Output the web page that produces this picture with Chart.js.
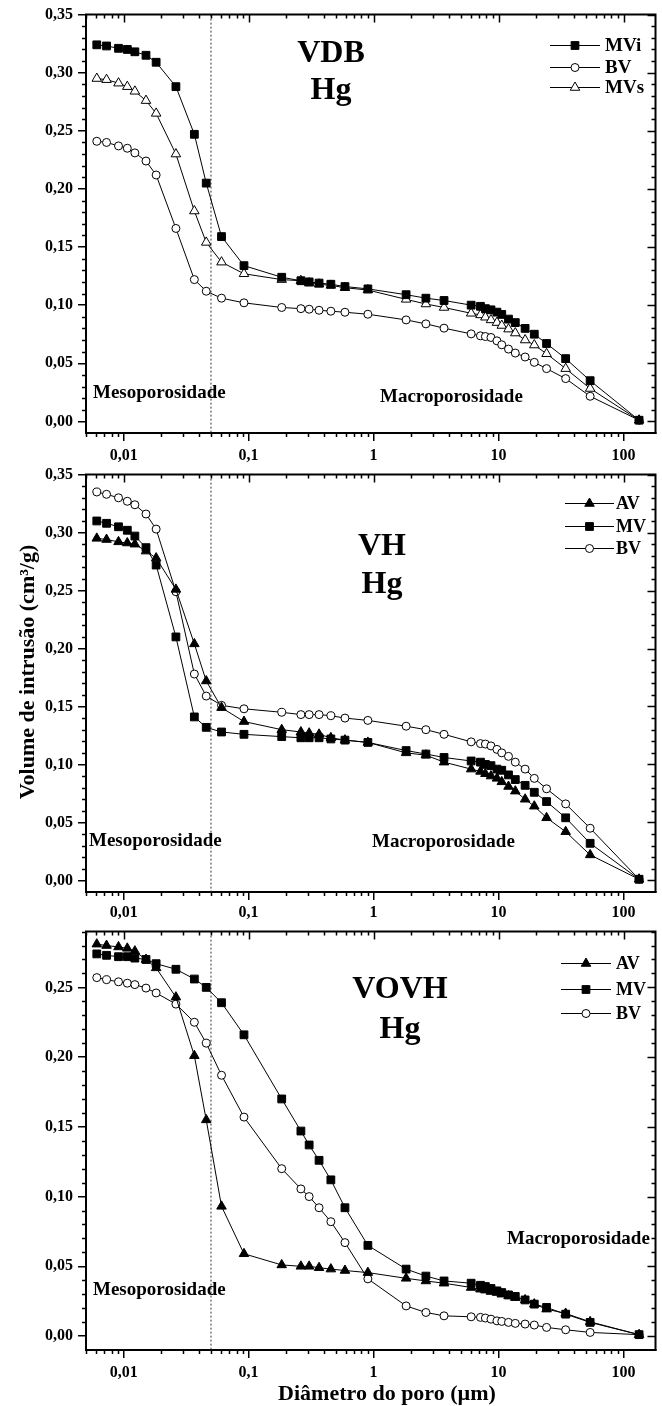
<!DOCTYPE html>
<html>
<head>
<meta charset="utf-8">
<script src="https://cdn.jsdelivr.net/npm/chart.js@4.4.1/dist/chart.umd.min.js"></script>
<style>
  html, body { margin: 0; padding: 0; background: #fff; }
  body { width: 662px; height: 1406px; position: relative; overflow: hidden; }
  canvas { position: absolute; left: 0; }
</style>
</head>
<body>
<canvas id="c1" width="662" height="470" style="top:0px;width:662px;height:470px"></canvas>
<canvas id="c2" width="662" height="470" style="top:460px;width:662px;height:470px"></canvas>
<canvas id="c3" width="662" height="489" style="top:917px;width:662px;height:489px"></canvas>
<script>
// pore diameter (µm), same intrusion steps for every sample
const diam = [0.0061, 0.0073, 0.0091, 0.0107, 0.0123, 0.0151, 0.0182, 0.0262, 0.0368, 0.0458,
  0.0607, 0.0918, 0.184, 0.262, 0.305, 0.366, 0.455, 0.59, 0.9, 1.82,
  2.62, 3.66, 6.03, 7.16, 7.84, 8.69, 9.7, 10.6, 12.0, 13.6,
  16.3, 19.3, 24.2, 34.4, 54.0, 133];

// VDB
const vdbMVi = [0.324, 0.323, 0.321, 0.320, 0.318, 0.315, 0.309, 0.288, 0.247, 0.205,
  0.159, 0.134, 0.124, 0.121, 0.120, 0.119, 0.118, 0.116, 0.114, 0.109,
  0.106, 0.104, 0.100, 0.099, 0.097, 0.096, 0.094, 0.092, 0.088, 0.085,
  0.080, 0.075, 0.067, 0.054, 0.035, 0.001];
const vdbBV = [0.241, 0.240, 0.237, 0.235, 0.231, 0.224, 0.212, 0.166, 0.122, 0.112,
  0.106, 0.102, 0.098, 0.097, 0.0965, 0.0956, 0.0948, 0.0939, 0.0922, 0.0873,
  0.0839, 0.0802, 0.0753, 0.0736, 0.073, 0.0722, 0.0693, 0.0659, 0.0622, 0.0588,
  0.0554, 0.0508, 0.0454, 0.0368, 0.0216, 0.001];
const vdbMVs = [0.295, 0.294, 0.291, 0.288, 0.284, 0.276, 0.265, 0.230, 0.181, 0.154,
  0.137, 0.127, 0.122, 0.121, 0.119, 0.118, 0.117, 0.115, 0.113, 0.105,
  0.101, 0.098, 0.093, 0.0916, 0.0896, 0.0873, 0.085, 0.0825, 0.0794, 0.076,
  0.070, 0.0657, 0.0582, 0.0454, 0.0283, 0.001];

// VH
const vhAV = [0.295, 0.294, 0.292, 0.291, 0.290, 0.284, 0.278, 0.251, 0.204, 0.172,
  0.149, 0.137, 0.130, 0.128, 0.127, 0.126, 0.123, 0.121, 0.119, 0.110,
  0.108, 0.102, 0.096, 0.094, 0.092, 0.090, 0.088, 0.085, 0.081, 0.077,
  0.070, 0.064, 0.054, 0.042, 0.022, 0.001];
const vhMV = [0.310, 0.308, 0.305, 0.302, 0.297, 0.287, 0.272, 0.210, 0.141, 0.132,
  0.128, 0.126, 0.124, 0.123, 0.123, 0.123, 0.122, 0.121, 0.119, 0.112,
  0.109, 0.106, 0.103, 0.102, 0.100, 0.099, 0.096, 0.095, 0.091, 0.087,
  0.082, 0.076, 0.068, 0.054, 0.032, 0.001];
const vhBV = [0.335, 0.333, 0.330, 0.327, 0.324, 0.316, 0.303, 0.249, 0.178, 0.159,
  0.151, 0.148, 0.145, 0.143, 0.143, 0.143, 0.142, 0.140, 0.138, 0.133,
  0.130, 0.126, 0.1195, 0.118, 0.1176, 0.116, 0.113, 0.110, 0.107, 0.102,
  0.096, 0.088, 0.079, 0.066, 0.045, 0.001];

// VOVH
const vovhAV = [0.281, 0.280, 0.279, 0.278, 0.276, 0.270, 0.264, 0.243, 0.201, 0.155,
  0.093, 0.059, 0.051, 0.050, 0.050, 0.049, 0.048, 0.047, 0.0455, 0.0414,
  0.0395, 0.0379, 0.0348, 0.0336, 0.0329, 0.0319, 0.0312, 0.030, 0.0288, 0.0276,
  0.0259, 0.0229, 0.0193, 0.0162, 0.0102, 0.001];
const vovhMV = [0.274, 0.273, 0.272, 0.272, 0.271, 0.270, 0.267, 0.263, 0.256, 0.250,
  0.239, 0.216, 0.170, 0.147, 0.137, 0.126, 0.112, 0.092, 0.065, 0.048,
  0.043, 0.0395, 0.0379, 0.0364, 0.0355, 0.0341, 0.0324, 0.0312, 0.0295, 0.0284,
  0.0259, 0.0229, 0.0205, 0.0157, 0.0098, 0.001];
const vovhBV = [0.257, 0.2555, 0.254, 0.253, 0.252, 0.2495, 0.246, 0.238, 0.225, 0.210,
  0.187, 0.157, 0.120, 0.1055, 0.100, 0.092, 0.082, 0.067, 0.041, 0.0216,
  0.0169, 0.0145, 0.0138, 0.0134, 0.0129, 0.0121, 0.0109, 0.0105, 0.0098, 0.0091,
  0.0086, 0.0079, 0.0062, 0.0045, 0.0026, 0.001];

const xTicks = [0.01, 0.1, 1, 10, 100];
const yTicks = [0, 0.05, 0.10, 0.15, 0.20, 0.25, 0.30, 0.35];
const mesoLimit = 0.05;

const FONT = '"Liberation Serif", "Times New Roman", serif';

const panels = [
  {
    id: 'c1', top: 0, ymax: 0.35, xh: 37, lblPad: 5,
    series: [
      { label: 'MVi', data: vdbMVi, style: 'rect', fill: true },
      { label: 'BV', data: vdbBV, style: 'circle', fill: false },
      { label: 'MVs', data: vdbMVs, style: 'triangle', fill: false }
    ],
    legend: { x1: 550, x2: 600, tx: 605, rows: [45, 67, 87], size: 19 },
    title: ['VDB', 'Hg'], titleX: 331, titleY: [62, 99],
    meso: [93, 398], macro: [380, 402]
  },
  {
    id: 'c2', top: 460, ymax: 0.35, xh: 38, lblPad: 3,
    series: [
      { label: 'AV', data: vhAV, style: 'triangle', fill: true },
      { label: 'MV', data: vhMV, style: 'rect', fill: true },
      { label: 'BV', data: vhBV, style: 'circle', fill: false }
    ],
    legend: { x1: 565, x2: 614, tx: 616, rows: [503, 526, 548], size: 18 },
    title: ['VH', 'Hg'], titleX: 382, titleY: [555, 593],
    meso: [89, 846], macro: [372, 847],
    yTitle: true
  },
  {
    id: 'c3', top: 917, ymax: 0.29, xh: 56, lblPad: 5,
    series: [
      { label: 'AV', data: vovhAV, style: 'triangle', fill: true },
      { label: 'MV', data: vovhMV, style: 'rect', fill: true },
      { label: 'BV', data: vovhBV, style: 'circle', fill: false }
    ],
    legend: { x1: 561, x2: 611, tx: 616, rows: [963, 989, 1013], size: 18 },
    title: ['VOVH', 'Hg'], titleX: 400, titleY: [998, 1038],
    meso: [93, 1295], macro: [507, 1244],
    xTitle: true
  }
];

function radiusFor(style) {
  return style === 'circle' ? 4 : 5.5;
}

function fmtY(v) { return v.toFixed(2).replace('.', ','); }
function fmtX(v) { return String(v).replace('.', ','); }

function drawMarker(ctx, style, r, x, y, fill) {
  ctx.save();
  ctx.fillStyle = fill ? '#000' : '#fff';
  ctx.strokeStyle = '#000';
  ctx.lineWidth = 1;
  Chart.helpers.drawPoint(ctx, { pointStyle: style, radius: r, rotation: 0, borderWidth: 1 }, x, y);
  ctx.restore();
}

function framePlugin(p) {
  return {
    id: 'frame' + p.id,
    beforeDatasetsDraw(chart) {
      const { ctx, chartArea: a, scales: { x } } = chart;
      const px = x.getPixelForValue(mesoLimit);
      ctx.save();
      ctx.strokeStyle = '#333';
      ctx.lineWidth = 1;
      ctx.setLineDash([2, 2]);
      ctx.beginPath();
      ctx.moveTo(px, a.top);
      ctx.lineTo(px, a.bottom);
      ctx.stroke();
      ctx.restore();
    },
    afterDraw(chart) {
      const { ctx, chartArea: a, scales: { x, y } } = chart;
      ctx.save();
      ctx.strokeStyle = '#000';

      // top and right axis lines
      ctx.lineWidth = 2;
      ctx.beginPath();
      ctx.moveTo(a.left - 1, a.top);
      ctx.lineTo(a.right, a.top);
      ctx.lineTo(a.right, a.bottom + 1);
      ctx.stroke();

      // x ticks: minor everywhere, major on top
      ctx.lineWidth = 1.5;
      ctx.beginPath();
      for (let d = -3; d <= 2; d++) {
        for (let m = 1; m <= 9; m++) {
          const v = m * Math.pow(10, d);
          if (v < x.min || v > x.max) continue;
          const px = Math.round(x.getPixelForValue(v)) + 0.5;
          if (m === 1) {
            ctx.moveTo(px, a.top); ctx.lineTo(px, a.top + 8);
          } else {
            ctx.moveTo(px, a.top); ctx.lineTo(px, a.top + 4);
            ctx.moveTo(px, a.bottom); ctx.lineTo(px, a.bottom + 4);
          }
        }
      }
      // y ticks: minor every 0.01, major on the right
      for (let i = 0; i <= 35; i++) {
        const v = i / 100;
        if (v > y.max + 1e-9) break;
        const py = Math.round(y.getPixelForValue(v)) + 0.5;
        if (i % 5 === 0) {
          ctx.moveTo(a.right, py); ctx.lineTo(a.right - 8, py);
        } else {
          ctx.moveTo(a.left, py); ctx.lineTo(a.left - 4, py);
          ctx.moveTo(a.right, py); ctx.lineTo(a.right - 4, py);
        }
      }
      ctx.stroke();

      const T = p.top;
      ctx.fillStyle = '#000';

      // sample name
      ctx.font = 'bold 32px ' + FONT;
      ctx.textAlign = 'center';
      ctx.textBaseline = 'alphabetic';
      ctx.fillText(p.title[0], p.titleX, p.titleY[0] - T);
      ctx.fillText(p.title[1], p.titleX, p.titleY[1] - T);

      // region labels
      ctx.font = 'bold 19px ' + FONT;
      ctx.textAlign = 'left';
      ctx.fillText('Mesoporosidade', p.meso[0], p.meso[1] - T);
      ctx.fillText('Macroporosidade', p.macro[0], p.macro[1] - T);

      // legend
      const L = p.legend;
      ctx.font = 'bold ' + L.size + 'px ' + FONT;
      ctx.textBaseline = 'middle';
      p.series.forEach((s, i) => {
        const ly = L.rows[i] - T;
        ctx.lineWidth = 1;
        ctx.beginPath();
        ctx.moveTo(L.x1, ly + 0.5);
        ctx.lineTo(L.x2, ly + 0.5);
        ctx.stroke();
        drawMarker(ctx, s.style, radiusFor(s.style), (L.x1 + L.x2) / 2, ly + 0.5, s.fill);
        ctx.fillStyle = '#000';
        ctx.fillText(s.label, L.tx, ly + 1);
      });

      if (p.yTitle) {
        ctx.save();
        ctx.translate(28, 672 - T);
        ctx.rotate(-Math.PI / 2);
        ctx.font = 'bold 22px ' + FONT;
        ctx.textAlign = 'center';
        ctx.textBaseline = 'middle';
        ctx.fillText('Volume de intrusão (cm³/g)', 0, 0);
        ctx.restore();
      }
      if (p.xTitle) {
        ctx.font = 'bold 22px ' + FONT;
        ctx.textAlign = 'center';
        ctx.textBaseline = 'alphabetic';
        ctx.fillText('Diâmetro do poro (µm)', 387, 1400 - T);
      }
      ctx.restore();
    }
  };
}

panels.forEach(p => {
  const ctx = document.getElementById(p.id).getContext('2d');
  new Chart(ctx, {
    type: 'scatter',
    data: {
      datasets: p.series.map(s => ({
        label: s.label,
        data: diam.map((d, i) => ({ x: d, y: s.data[i] })),
        showLine: true,
        borderColor: '#000',
        borderWidth: 1,
        pointStyle: s.style,
        pointRadius: radiusFor(s.style),
        pointBackgroundColor: s.fill ? '#000' : '#fff',
        pointBorderColor: '#000',
        pointBorderWidth: 1,
        tension: 0
      }))
    },
    options: {
      responsive: false,
      animation: false,
      layout: { padding: { top: 13, right: 2, left: 0, bottom: 0 } },
      plugins: { legend: { display: false }, tooltip: { enabled: false } },
      scales: {
        x: {
          type: 'logarithmic',
          min: 0.005,
          max: 180,
          afterBuildTicks: s => { s.ticks = xTicks.map(v => ({ value: v })); },
          afterFit: s => { s.height = p.xh; },
          ticks: {
            callback: v => fmtX(v),
            color: '#000',
            font: { family: FONT, size: 16, weight: 'bold' },
            padding: p.lblPad,
            maxRotation: 0,
            autoSkip: false
          },
          grid: { display: true, drawOnChartArea: false, drawTicks: true, tickLength: 8, color: '#000', lineWidth: 1.5 },
          border: { display: true, color: '#000', width: 2 }
        },
        y: {
          min: -0.01,
          max: p.ymax,
          afterBuildTicks: s => { s.ticks = yTicks.filter(v => v <= p.ymax + 1e-9).map(v => ({ value: v })); },
          afterFit: s => { s.width = 86; },
          ticks: {
            callback: v => fmtY(v),
            color: '#000',
            font: { family: FONT, size: 16, weight: 'bold' },
            padding: 5
          },
          grid: { display: true, drawOnChartArea: false, drawTicks: true, tickLength: 8, color: '#000', lineWidth: 1.5 },
          border: { display: true, color: '#000', width: 2 }
        }
      }
    },
    plugins: [framePlugin(p)]
  });
});
</script>
</body>
</html>
